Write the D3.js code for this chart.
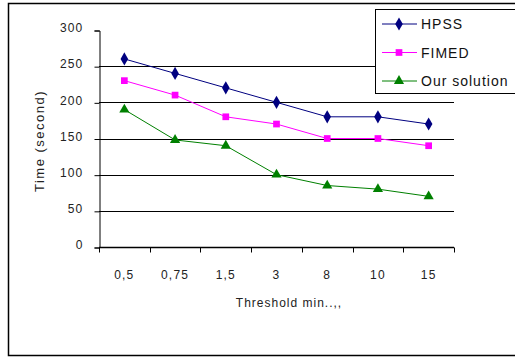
<!DOCTYPE html>
<html>
<head>
<meta charset="utf-8">
<script src="https://cdn.jsdelivr.net/npm/d3@7"></script>
<style>
  body { margin: 0; background: white; }
  text { font-family: Arial, "Liberation Sans", sans-serif; }
</style>
</head>
<body>
<div id="chart"></div>
<script>
// data
const categories = ["0,5", "0,75", "1,5", "3", "8", "10", "15"];
const hpss = [260, 240, 220, 200, 180, 180, 170];
const fimed = [230, 210, 180, 170, 150, 150, 140];
const ourSolution = [190, 148, 140, 100, 85, 80, 70];
const yTicks = [0, 50, 100, 150, 200, 250, 300];

const series = [
  { name: "HPSS", values: hpss, color: "#000080", symbol: d3.symbolDiamond, size: 50 },
  { name: "FIMED", values: fimed, color: "#ff00ff", symbol: d3.symbolSquare, size: 45 },
  { name: "Our solution", values: ourSolution, color: "#008000", symbol: d3.symbolTriangle, size: 45 }
];

const W = 515, H = 358;
const plot = { left: 99, right: 454, top: 30, bottom: 247 };

let svg = d3.select("#chart").append("svg")
  .attr("width", W)
  .attr("height", H);

// outer frame
svg.append("rect")
  .attr("x", 8.5).attr("y", 3.5)
  .attr("width", 520).attr("height", 352)
  .attr("fill", "white")
  .attr("stroke", "black")
  .attr("stroke-width", 1.5);

let x = d3.scaleBand().domain(categories).range([plot.left, plot.right]);
let y = d3.scaleLinear().domain([0, 300]).range([plot.bottom, plot.top]);

let g = svg.append("g");

// gridlines
g.selectAll("line.grid")
  .data(yTicks.filter(d => d > 0 && d < 300))
  .join("line")
  .attr("class", "grid")
  .attr("x1", plot.left).attr("x2", plot.right)
  .attr("y1", d => Math.round(y(d)) + 0.5).attr("y2", d => Math.round(y(d)) + 0.5)
  .attr("stroke", "black");

// y axis
let yAxis = g.append("g")
  .attr("transform", `translate(${plot.left + 0.5},0.5)`)
  .call(d3.axisLeft(y).tickValues(yTicks).tickSize(5).tickPadding(11));
yAxis.select(".domain").attr("stroke", "black");
yAxis.selectAll("text")
  .attr("font-size", 12)
  .attr("font-family", "Arial, 'Liberation Sans', sans-serif")
  .attr("letter-spacing", 1.2)
  .attr("dy", "0.1em")
  .attr("fill", "#222");

// x axis: ticks at band boundaries
let xAxis = g.append("g")
  .attr("transform", `translate(0,${Math.round(plot.bottom) + 0.5})`);
xAxis.append("line")
  .attr("x1", plot.left).attr("x2", plot.right)
  .attr("stroke", "black").attr("stroke-width", 1.5);
let boundaries = categories.map(c => x(c)).concat([plot.right]);
xAxis.selectAll("line.tk")
  .data(boundaries)
  .join("line")
  .attr("class", "tk")
  .attr("x1", d => Math.round(d) + 0.5).attr("x2", d => Math.round(d) + 0.5)
  .attr("y1", 0).attr("y2", 5)
  .attr("stroke", "black");
xAxis.selectAll("text")
  .data(categories)
  .join("text")
  .attr("x", d => x(d) + x.bandwidth() / 2)
  .attr("y", 31)
  .attr("text-anchor", "middle")
  .attr("font-size", 12)
  .attr("letter-spacing", 1.2)
  .attr("fill", "#222")
  .text(d => d);

// axis titles
svg.append("text")
  .attr("x", 289).attr("y", 307)
  .attr("text-anchor", "middle")
  .attr("font-size", 12)
  .attr("letter-spacing", 1)
  .attr("fill", "#222")
  .text("Threshold min..,,");

svg.append("text")
  .attr("transform", "translate(44,141) rotate(-90)")
  .attr("text-anchor", "middle")
  .attr("font-size", 13)
  .attr("letter-spacing", 1.5)
  .attr("fill", "#222")
  .text("Time (second)");

// lines and markers
let line = d3.line()
  .x((d, i) => x(categories[i]) + x.bandwidth() / 2)
  .y(d => y(d));

series.forEach(s => {
  g.append("path")
    .datum(s.values)
    .attr("d", line)
    .attr("fill", "none")
    .attr("stroke", s.color)
    .attr("stroke-width", 1);
  g.selectAll(null)
    .data(s.values)
    .join("path")
    .attr("transform", (d, i) => `translate(${x(categories[i]) + x.bandwidth() / 2},${y(d)})`)
    .attr("d", d3.symbol().type(s.symbol).size(s.size))
    .attr("fill", s.color);
});

// legend
let legend = svg.append("g").attr("transform", "translate(375,9)");
legend.append("rect")
  .attr("x", 0.5).attr("y", 0.5)
  .attr("width", 150).attr("height", 84)
  .attr("fill", "white")
  .attr("stroke", "black")
  .attr("stroke-width", 1);
series.forEach((s, i) => {
  let ly = 15 + i * 28.5;
  legend.append("line")
    .attr("x1", 7).attr("x2", 42)
    .attr("y1", ly).attr("y2", ly)
    .attr("stroke", s.color);
  legend.append("path")
    .attr("transform", `translate(24,${ly})`)
    .attr("d", d3.symbol().type(s.symbol).size(s.size))
    .attr("fill", s.color);
  legend.append("text")
    .attr("x", 46).attr("y", ly + 5)
    .attr("font-size", 14)
    .attr("letter-spacing", 1)
    .attr("fill", "#111")
    .text(s.name);
});
</script>
</body>
</html>
